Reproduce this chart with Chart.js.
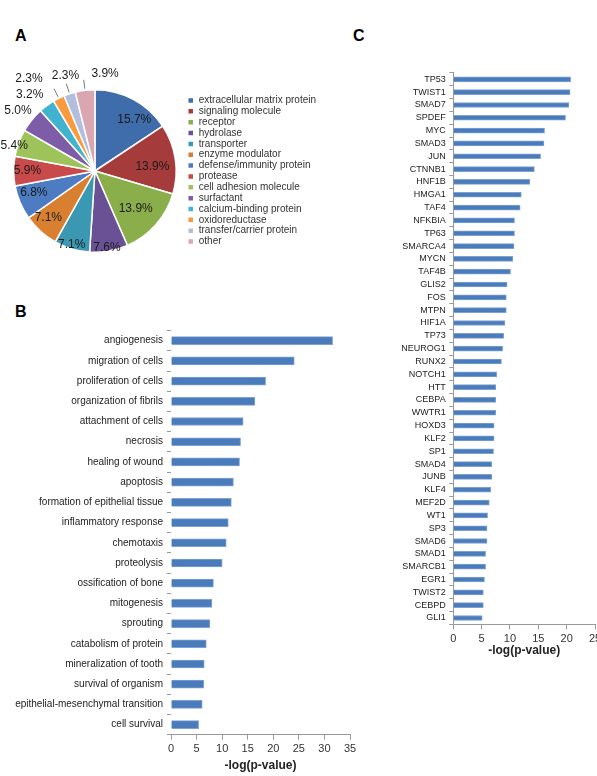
<!DOCTYPE html>
<html>
<head>
<meta charset="utf-8">
<script src="https://cdn.jsdelivr.net/npm/chart.js@4.4.1/dist/chart.umd.min.js"></script>
<style>
  html, body { margin: 0; padding: 0; background: #fff; width: 597px; height: 776px; overflow: hidden; position: relative; }
  canvas { position: absolute; }
  .tag { position: absolute; font: bold 16px Arial, "Liberation Sans", sans-serif; line-height: 16px; color: #000; }
</style>
</head>
<body>
<div class="tag" style="left:15px;top:28px">A</div>
<div class="tag" style="left:15px;top:304px">B</div>
<div class="tag" style="left:353px;top:28px">C</div>
<canvas id="pieChart" width="360" height="200" style="left:0;top:60px"></canvas>
<canvas id="termChart" width="365" height="456" style="left:0;top:320px"></canvas>
<canvas id="tfChart" width="250" height="606" style="left:360px;top:60px"></canvas>
<script>
// A: protein classes (%)
const classNames = ["extracellular matrix protein", "signaling molecule", "receptor", "hydrolase",
  "transporter", "enzyme modulator", "defense/immunity protein", "protease", "cell adhesion molecule",
  "surfactant", "calcium-binding protein", "oxidoreductase", "transfer/carrier protein", "other"];
const classShares = [15.7, 13.9, 13.9, 7.6, 7.1, 7.1, 6.8, 5.9, 5.4, 5.0, 3.2, 2.3, 2.3, 3.9];
const classColors = ["#3f6caa", "#a63b3c", "#8aae4a", "#6a5196", "#3a98b2", "#d98030", "#4d7cc2",
  "#c94a4b", "#9dc35a", "#7d5da8", "#40b3d0", "#f99a3e", "#b2bedd", "#daa7b0"];

// B: functions
const terms = ["angiogenesis", "migration of cells", "proliferation of cells", "organization of fibrils",
  "attachment of cells", "necrosis", "healing of wound", "apoptosis", "formation of epithelial tissue",
  "inflammatory response", "chemotaxis", "proteolysis", "ossification of bone", "mitogenesis",
  "sprouting", "catabolism of protein", "mineralization of tooth", "survival of organism",
  "epithelial-mesenchymal transition", "cell survival"];
const termScores = [31.6, 24.1, 18.5, 16.4, 14.1, 13.6, 13.4, 12.2, 11.8, 11.2, 10.8, 10.0, 8.3, 8.0,
  7.6, 6.9, 6.5, 6.4, 6.1, 5.4];

// C: upstream regulators
const regulators = ["TP53", "TWIST1", "SMAD7", "SPDEF", "MYC", "SMAD3", "JUN", "CTNNB1", "HNF1B",
  "HMGA1", "TAF4", "NFKBIA", "TP63", "SMARCA4", "MYCN", "TAF4B", "GLIS2", "FOS", "MTPN", "HIF1A",
  "TP73", "NEUROG1", "RUNX2", "NOTCH1", "HTT", "CEBPA", "WWTR1", "HOXD3", "KLF2", "SP1", "SMAD4",
  "JUNB", "KLF4", "MEF2D", "WT1", "SP3", "SMAD6", "SMAD1", "SMARCB1", "EGR1", "TWIST2", "CEBPD", "GLI1"];
const regulatorScores = [20.7, 20.6, 20.4, 19.8, 16.1, 16.0, 15.4, 14.3, 13.5, 12.0, 11.8, 10.8, 10.8,
  10.7, 10.5, 10.1, 9.5, 9.35, 9.35, 9.1, 8.9, 8.7, 8.5, 7.65, 7.5, 7.5, 7.5, 7.2, 7.2, 7.1, 6.8, 6.8,
  6.6, 6.35, 6.05, 5.95, 5.95, 5.7, 5.7, 5.5, 5.3, 5.3, 5.1];

const termTicks = [0, 5, 10, 15, 20, 25, 30, 35];
const regulatorTicks = [0, 5, 10, 15, 20, 25];

Chart.defaults.font.family = "Arial, 'Liberation Sans', sans-serif";
Chart.defaults.color = "#222";
Chart.defaults.animation = false;
Chart.defaults.plugins.tooltip.enabled = false;

// percent labels on/around the pie
const pieLabels = {
  id: "pieLabels",
  afterDatasetsDraw(chart, args, opts) {
    const ctx = chart.ctx;
    const arcs = chart.getDatasetMeta(0).data;
    ctx.save();
    ctx.font = "12px Arial, 'Liberation Sans', sans-serif";
    ctx.fillStyle = "#1a1a1a";
    ctx.strokeStyle = "#555";
    ctx.lineWidth = 0.8;
    ctx.textAlign = "center";
    ctx.textBaseline = "middle";
    arcs.forEach((arc, i) => {
      const p = arc.getProps(["x", "y", "startAngle", "endAngle", "outerRadius"], true);
      const mid = (p.startAngle + p.endAngle) / 2;
      const a = mid + opts.shift[i] * Math.PI / 180;
      const r = p.outerRadius * opts.radius[i];
      ctx.fillText(classShares[i].toFixed(1) + "%", p.x + Math.cos(a) * r, p.y + Math.sin(a) * r);
      if (opts.leaders.includes(i)) {
        ctx.beginPath();
        ctx.moveTo(p.x + Math.cos(mid) * p.outerRadius * 1.02, p.y + Math.sin(mid) * p.outerRadius * 1.02);
        ctx.lineTo(p.x + Math.cos(mid) * p.outerRadius * 1.13, p.y + Math.sin(mid) * p.outerRadius * 1.13);
        ctx.stroke();
      }
    });
    ctx.restore();
  }
};

new Chart(document.getElementById("pieChart"), {
  type: "pie",
  data: {
    labels: classNames,
    datasets: [{
      data: classShares,
      backgroundColor: classColors,
      borderColor: "#fff",
      borderWidth: 1.5
    }]
  },
  options: {
    responsive: false,
    layout: { padding: { left: 3, top: 29, bottom: 7, right: 34 } },
    plugins: {
      legend: {
        position: "right",
        labels: {
          boxWidth: 6,
          boxHeight: 6,
          padding: 0.85,
          color: "#333",
          font: { size: 10 }
        }
      },
      pieLabels: {
        radius: [0.8, 0.71, 0.68, 0.96, 0.95, 0.81, 0.8, 0.83, 1.04, 1.2, 1.24, 1.4, 1.23, 1.2],
        shift: [9, 4, 1, 1, 1, 3, 3, 0, -3, -1, -4, -9, 1, 13],
        leaders: [11, 12, 13]
      }
    }
  },
  plugins: [pieLabels]
});

function barOptions(cfg) {
  return {
    responsive: false,
    indexAxis: "y",
    layout: { padding: { top: cfg.padTop, right: 15, left: 0, bottom: 0 } },
    plugins: { legend: { display: false } },
    scales: {
      x: {
        min: 0,
        max: cfg.max,
        afterBuildTicks: s => { s.ticks = cfg.ticks.map(v => ({ value: v })); },
        afterFit: s => { s.height = cfg.xHeight; },
        ticks: { font: { size: 11 }, color: "#333", padding: 3, maxRotation: 0 },
        grid: { drawOnChartArea: false, drawTicks: true, tickLength: 5, color: "#999" },
        border: { display: true, color: "#999" },
        title: { display: true, text: "-log(p-value)", font: { size: 12, weight: "bold" }, color: "#222",
          padding: { top: 0, bottom: cfg.titleGap } }
      },
      y: {
        afterFit: s => { s.width = cfg.yWidth; },
        ticks: { font: { size: cfg.labelSize }, color: "#222", padding: cfg.labelPad, autoSkip: false },
        grid: { drawOnChartArea: false, drawTicks: true, tickLength: 4, color: "#999", offset: true },
        border: { display: cfg.yLine, color: "#999" }
      }
    }
  };
}

new Chart(document.getElementById("termChart"), {
  type: "bar",
  data: {
    labels: terms,
    datasets: [{ data: termScores, backgroundColor: "#4a7bbb", borderColor: "#7ea2d4", borderWidth: 1, barThickness: 8 }]
  },
  options: barOptions({ max: 35, ticks: termTicks, padTop: 10.6, xHeight: 41.3, yWidth: 171,
    labelSize: 10, labelPad: 4, yLine: false, titleGap: 2.8 })
});

new Chart(document.getElementById("tfChart"), {
  type: "bar",
  data: {
    labels: regulators,
    datasets: [{ data: regulatorScores, backgroundColor: "#4a7bbb", borderColor: "#7ea2d4", borderWidth: 1, barThickness: 5 }]
  },
  options: barOptions({ max: 25, ticks: regulatorTicks, padTop: 12.9, xHeight: 41.6, yWidth: 93.3,
    labelSize: 9, labelPad: 3.6, yLine: true, titleGap: 7.8 })
});
</script>
</body>
</html>
